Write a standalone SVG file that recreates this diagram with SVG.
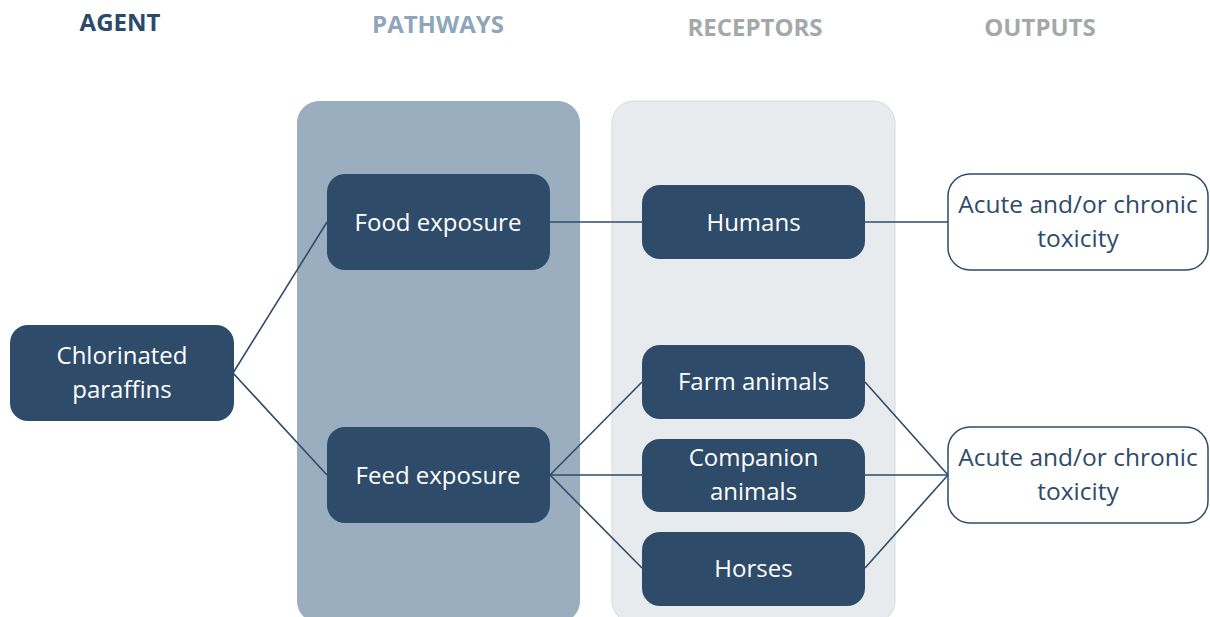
<svg xmlns="http://www.w3.org/2000/svg" width="1210" height="617" viewBox="0 0 1210 617">
<style>
.hdr{font-family:"Open Sans","Liberation Sans",sans-serif;font-weight:bold;font-size:24px;text-anchor:middle}
.node rect{fill:#2e4b6a}
.node text{font-family:"Open Sans","Liberation Sans",sans-serif;font-size:24px;fill:#ffffff;text-anchor:middle}
.out rect{fill:#ffffff;stroke:#2e4b6a;stroke-width:1.5}
.out text{font-family:"Open Sans","Liberation Sans",sans-serif;font-size:24.5px;fill:#2e4b6a;text-anchor:middle}
.conn line{stroke:#2e4b6a;stroke-width:1.6;fill:none}
</style>
<rect width="1210" height="617" fill="#ffffff"/>
<g id="headers">
<text class="hdr" x="120" y="31" fill="#2b4a6b">AGENT</text>
<text class="hdr" x="438" y="33" fill="#8ea5bb">PATHWAYS</text>
<text class="hdr" x="755" y="36" fill="#a5a8aa">RECEPTORS</text>
<text class="hdr" x="1040" y="36" fill="#a5a8aa">OUTPUTS</text>
</g>
<g id="panels">
<rect id="pathways-panel" x="297" y="101" width="283" height="522" rx="22" fill="#9aaec0"/>
<rect id="receptors-panel" x="612" y="101" width="283" height="522" rx="22" fill="#e8ebee" stroke="#d6dadd" stroke-width="1"/>
</g>
<g id="connectors" class="conn">
<line x1="233" y1="373" x2="327" y2="222"/>
<line x1="233" y1="373" x2="327" y2="475"/>
<line x1="550" y1="222" x2="642" y2="222"/>
<line x1="865" y1="222" x2="948" y2="222"/>
<line x1="550" y1="475" x2="642" y2="382"/>
<line x1="550" y1="475" x2="642" y2="475"/>
<line x1="550" y1="475" x2="642" y2="568"/>
<line x1="865" y1="382" x2="948" y2="475"/>
<line x1="865" y1="475" x2="948" y2="475"/>
<line x1="865" y1="568" x2="948" y2="475"/>
</g>
<g id="chlorinated-paraffins" class="node">
<rect x="10" y="325" width="224" height="96" rx="18"/>
<text x="122" y="364">Chlorinated</text>
<text x="122" y="398">paraffins</text>
</g>
<g id="food-exposure" class="node">
<rect x="327" y="174" width="223" height="96" rx="18"/>
<text x="438" y="231">Food exposure</text>
</g>
<g id="feed-exposure" class="node">
<rect x="327" y="427" width="223" height="96" rx="18"/>
<text x="438" y="484">Feed exposure</text>
</g>
<g id="humans" class="node">
<rect x="642" y="185" width="223" height="74" rx="18"/>
<text x="753.5" y="231">Humans</text>
</g>
<g id="farm-animals" class="node">
<rect x="642" y="345" width="223" height="74" rx="18"/>
<text x="753.5" y="390">Farm animals</text>
</g>
<g id="companion-animals" class="node">
<rect x="642" y="439" width="223" height="73" rx="18"/>
<text x="753.5" y="466">Companion</text>
<text x="753.5" y="500">animals</text>
</g>
<g id="horses" class="node">
<rect x="642" y="532" width="223" height="74" rx="18"/>
<text x="753.5" y="577">Horses</text>
</g>
<g id="output-1" class="out">
<rect x="948" y="174" width="260" height="96" rx="22"/>
<text x="1078" y="213">Acute and/or chronic</text>
<text x="1078" y="247">toxicity</text>
</g>
<g id="output-2" class="out">
<rect x="948" y="427" width="260" height="96" rx="22"/>
<text x="1078" y="466">Acute and/or chronic</text>
<text x="1078" y="500">toxicity</text>
</g>
</svg>
